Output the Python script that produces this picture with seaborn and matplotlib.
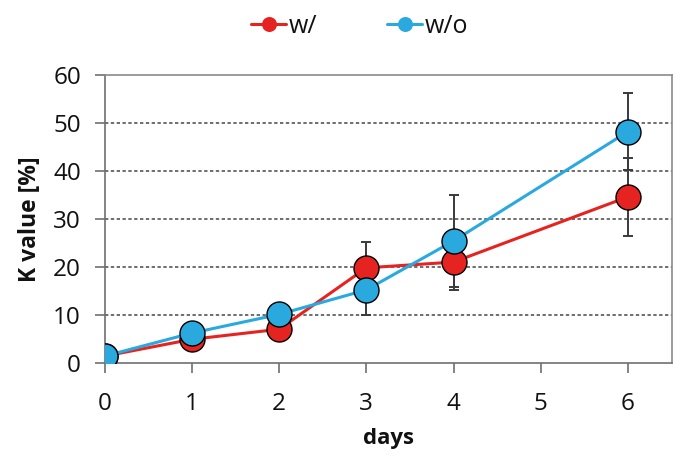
import numpy as np
import pandas as pd
import matplotlib
matplotlib.use('Agg')
import matplotlib.pyplot as plt
import seaborn as sns

days = [0, 1, 2, 3, 4, 6]
k_with = [1.5, 5.0, 7.1, 19.9, 21.1, 34.7]
k_without = [1.5, 6.3, 10.2, 15.3, 25.5, 48.3]
err_with = [0.5, 0.8, 1.2, 5.4, 5.8, 8.1]
err_without = [0.5, 1.0, 1.5, 5.3, 9.6, 8.0]

data = pd.DataFrame({
    'days': days * 2,
    'K': k_with + k_without,
    'err': err_with + err_without,
    'group': ['w/'] * len(days) + ['w/o'] * len(days),
})

sns.set_style('white')
plt.rcParams['font.family'] = ['Open Sans', 'DejaVu Sans']
plt.rcParams['text.color'] = '#111111'
plt.rcParams['axes.labelcolor'] = '#111111'
plt.rcParams['xtick.labelcolor'] = '#111111'
plt.rcParams['ytick.labelcolor'] = '#111111'

colors = {'w/': '#e52421', 'w/o': '#2aa9de'}

fig, ax = plt.subplots(figsize=(6.75, 4.57), dpi=100)

# error bars first so the markers sit on top
for g, d in data.groupby('group'):
    ax.errorbar(d['days'], d['K'], yerr=d['err'], fmt='none',
                ecolor='#3a3a3a', elinewidth=1.4, capsize=3.5, capthick=1.4, zorder=2)

sns.lineplot(data=data, x='days', y='K', hue='group', palette=colors,
             marker='o', markersize=18, markeredgecolor='black',
             markeredgewidth=1.0, linewidth=2.2, ax=ax, zorder=3)

ax.set_xlim(0, 6.5)
ax.set_ylim(0, 60)
ax.set_xticks(range(0, 7))
ax.set_yticks(range(0, 61, 10))
ax.tick_params(axis='both', labelsize=17.5, direction='out', length=7,
               width=1.2, color='#707070', left=True, bottom=True)
ax.tick_params(axis='x', pad=14)
ax.tick_params(axis='y', pad=10)
for yv in range(10, 60, 10):
    ax.axhline(yv, color='#555555', linestyle=(0, (2, 1.5)), linewidth=1.2, zorder=1)
for s in ax.spines.values():
    s.set_color('#8a8a8a')
    s.set_linewidth(1.2)
ax.spines['left'].set_color('#707070')
ax.spines['bottom'].set_color('#707070')
ax.set_xlabel('days', fontsize=16, fontweight='bold', labelpad=8)
ax.set_ylabel('K value [%]', fontsize=16.5, fontweight='bold', labelpad=8)

leg = ax.legend(loc='lower center', bbox_to_anchor=(0.45, 1.05), ncol=2, frameon=False,
                fontsize=18, handlelength=1.4, columnspacing=2.8, handletextpad=0.1,
                markerscale=0.6)
for h in leg.legend_handles:
    h.set_markeredgewidth(0.0)

fig.subplots_adjust(left=0.155, right=0.995, top=0.835, bottom=0.205)
fig.savefig('out.png', dpi=100)
